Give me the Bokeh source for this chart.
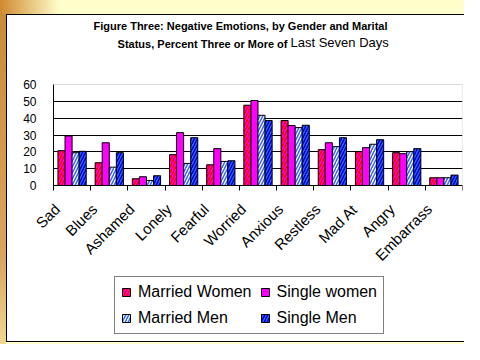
import math
import numpy as np
from bokeh.plotting import figure
from bokeh.models import (ColumnDataSource, Range1d, FixedTicker, Legend, LegendItem,
                          Label, BoxAnnotation)
from bokeh.core.properties import value
from bokeh.embed import file_html
from bokeh.resources import INLINE

categories = ["Sad", "Blues", "Ashamed", "Lonely", "Fearful", "Worried",
              "Anxious", "Restless", "Mad At", "Angry", "Embarrass"]
married_women = [20.7, 13.5, 4.0, 18.3, 12.3, 47.7, 38.6, 21.3, 20.1, 19.5, 4.6]
single_women = [29.4, 25.4, 5.2, 31.4, 21.9, 50.5, 35.6, 25.4, 22.5, 18.9, 4.6]
married_men = [19.5, 10.9, 3.0, 13.1, 14.3, 41.7, 34.4, 23.1, 24.5, 20.1, 4.6]
single_men = [20.3, 19.5, 5.8, 28.4, 14.7, 38.6, 35.8, 28.4, 27.2, 21.9, 6.2]
series_names = ["Married Women", "Single women", "Married Men", "Single Men"]
y_ticks = [0, 10, 20, 30, 40, 50, 60]
y_tick_labels = ["0", "10", "20", "30", "40", "50", "60"]
title_line1 = "Figure Three: Negative Emotions, by Gender and Marital"
title_line2a = "Status, Percent Three or More of"
title_line2b = "Last Seven Days"

FONT = "Liberation Sans"
W, H = 464, 344
# frame (drawing area) in canvas pixels
FL, FR, FT, FB = 14, 2, 10, 8
FRAME_L, FRAME_R, FRAME_T, FRAME_B = FL, W - FR, FT, H - FB
# where the value axes sit in canvas pixels
AX_L, AX_R, AX_T, AX_B = 53, 462, 84, 185

n = len(categories)
ymax_v = y_ticks[-1]
xppu = (AX_R - AX_L) / n
yppu = (AX_B - AX_T) / ymax_v
x_range = Range1d(-(AX_L - FRAME_L) / xppu, n + (FRAME_R - AX_R) / xppu)
y_range = Range1d(-(FRAME_B - AX_B) / yppu, ymax_v + (AX_T - FRAME_T) / yppu)


def sx(px):
    return px - FRAME_L


def sy(py):
    return FRAME_B - py


p = figure(width=W, height=H, x_range=x_range, y_range=y_range, title=None,
           output_backend="svg", toolbar_location=None,
           min_border_left=FL, min_border_right=FR, min_border_top=FT, min_border_bottom=FB)
p.border_fill_alpha = 0
p.background_fill_alpha = 0
p.outline_line_color = None

# slide-like background: yellow page, orange left strip, white panel with black border
p.styles = {
    "background": (
        "linear-gradient(to right, #D08A30, #FFFFCC) 0px 0px / 60px 14px no-repeat, "
        "linear-gradient(to bottom, #C98A35, #D9A560 75%, #F0D890) 0px 0px / 6px 100% no-repeat, "
        "linear-gradient(#FFFFFF, #FFFFFF) 7px 15px / 466px 326px no-repeat, "
        "linear-gradient(#000000, #000000) 6px 14px / 468px 328px no-repeat, "
        "#FFFFCC"
    )
}

# y axis line, fixed at x = 0 (tick labels drawn as text next to it)
p.yaxis.fixed_location = 0
p.yaxis.bounds = (0, ymax_v)
p.yaxis.ticker = FixedTicker(ticks=[], minor_ticks=[])
p.yaxis.major_tick_out = 0
p.yaxis.major_tick_in = 0
p.yaxis.minor_tick_out = 0
p.yaxis.minor_tick_in = 0
p.yaxis.major_label_standoff = 0
p.yaxis.axis_line_color = "black"

# x axis, fixed at y = 0, ticks at category boundaries
p.xaxis.fixed_location = 0
p.xaxis.bounds = (0, n)
p.xaxis.ticker = FixedTicker(ticks=[], minor_ticks=list(range(n + 1)))
p.xaxis.major_tick_out = 0
p.xaxis.major_tick_in = 0
p.xaxis.minor_tick_out = 5
p.xaxis.minor_tick_in = 0
p.xaxis.minor_tick_line_color = "black"
p.xaxis.axis_line_color = "black"
p.xaxis.major_label_standoff = 0

# grid
p.xgrid.visible = False
p.ygrid.ticker = FixedTicker(ticks=y_ticks[1:-1])
p.ygrid.grid_line_color = "black"
p.ygrid.grid_line_width = 1
grid = p.ygrid[0]
if "cross_bounds" in grid.properties():
    grid.cross_bounds = (0, n)

# gray plot-area border (top and right)
area = BoxAnnotation(left=0, right=n, bottom=0, top=ymax_v, fill_alpha=0,
                     line_color="#808080", line_width=1, level="underlay")
p.add_layout(area)

# y tick labels
ytl_src = ColumnDataSource(dict(x=[0] * len(y_ticks), y=y_ticks, text=y_tick_labels))
p.text(x="x", y="y", text="text", source=ytl_src, x_offset=-17,
       text_align="right", text_baseline="middle",
       text_font=value(FONT), text_font_size="12px", text_color="black")

# bars
centers = np.arange(n) + 0.5
bar_w = 0.19
offsets = (np.arange(4) - 1.5) * bar_w
series = [married_women, single_women, married_men, single_men]
styles = [
    dict(fill_color="#FF0000", hatch_pattern="/", hatch_color="#FF00FF", hatch_scale=6, hatch_weight=1.2),
    dict(fill_color="#FF00FF"),
    dict(fill_color="white", hatch_pattern="/", hatch_color="#3366FF", hatch_scale=6, hatch_weight=1.5),
    dict(fill_color="#3366FF", hatch_pattern="/", hatch_color="#0000CC", hatch_scale=6, hatch_weight=1.5),
]
renderers = []
for vals, off, st in zip(series, offsets, styles):
    src = ColumnDataSource(dict(x=centers + off, top=vals))
    r = p.vbar(x="x", top="top", bottom=0, width=bar_w, source=src,
               line_color="black", line_width=1, **st)
    renderers.append(r)

# category labels, rotated, under the axis
lab_src = ColumnDataSource(dict(x=centers - 0.56, y=[0] * n, text=categories))
p.text(x="x", y="y", text="text", source=lab_src, angle=45, angle_units="deg",
       text_align="right", text_baseline="top", y_offset=15,
       text_font=value(FONT), text_font_size="15px", text_color="black")

# legend
legend = Legend(items=[LegendItem(label=nm, renderers=[r]) for nm, r in zip(series_names, renderers)],
                orientation="horizontal", ncols=2, location=(sx(114), sy(334)))
legend.border_line_color = "black"
legend.border_line_width = 1
legend.background_fill_color = "white"
legend.background_fill_alpha = 1
legend.label_text_font = FONT
legend.label_text_font_size = "16px"
legend.label_text_color = "black"
legend.glyph_width = 10
legend.glyph_height = 10
legend.label_standoff = 7
legend.label_height = 16
legend.spacing = 8
legend.padding = 6
legend.margin = 0
p.add_layout(legend)

# titles
t1 = Label(x=sx(240), y=sy(25), x_units="screen", y_units="screen", text=title_line1,
           text_align="center", text_baseline="middle", text_font=FONT,
           text_font_size="11px", text_font_style="bold", text_color="black")
t2 = Label(x=sx(287), y=sy(43), x_units="screen", y_units="screen", text=title_line2a,
           text_align="right", text_baseline="middle", text_font=FONT,
           text_font_size="11px", text_font_style="bold", text_color="black")
t3 = Label(x=sx(290), y=sy(42), x_units="screen", y_units="screen", text=title_line2b,
           text_align="left", text_baseline="middle", text_font=FONT,
           text_font_size="13px", text_color="black")
for t in (t1, t2, t3):
    p.add_layout(t)

open("out.html", "w").write(file_html(p, INLINE))
